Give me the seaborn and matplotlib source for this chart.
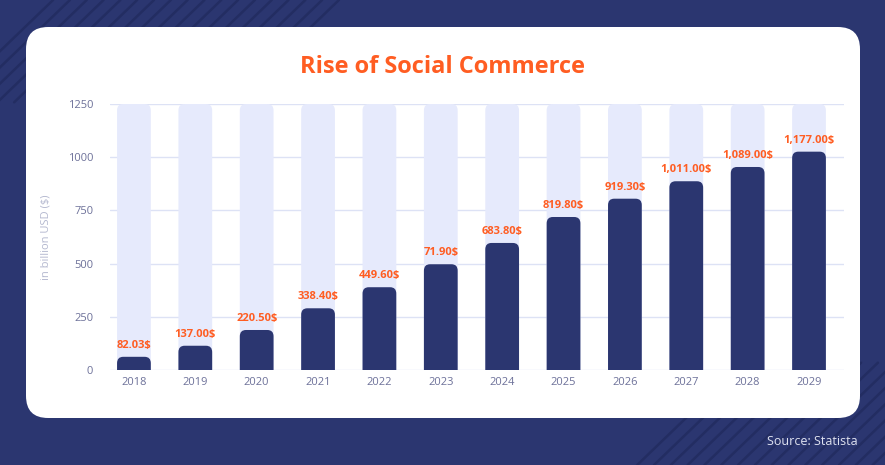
import matplotlib
matplotlib.use('Agg')
import matplotlib.pyplot as plt
from matplotlib.patches import FancyBboxPatch
import seaborn as sns
import pandas as pd

# Dados (alturas; rótulos como publicados)
anos = ['2018', '2019', '2020', '2021', '2022', '2023',
        '2024', '2025', '2026', '2027', '2028', '2029']
altura_barras = [62, 114, 188, 290, 389, 497, 597, 719, 805, 887, 954, 1026]
rotulos = ['82.03', '137.00', '220.50', '338.40', '449.60', '71.90',
           '683.80', '819.80', '919.30', '1,011.00', '1,089.00', '1,177.00']
teto = [1250] * len(anos)

AZUL = '#2b3670'
AZUL_ESCURO = '#232d62'
CLARO = '#e6eafc'
LARANJA = '#ff5d22'
CINZA = '#6d7199'

df = pd.DataFrame({'ano': anos, 'valor': altura_barras, 'teto': teto})

sns.set_theme(style='white')
plt.rcParams['font.family'] = ['Open Sans', 'DejaVu Sans']

fig = plt.figure(figsize=(8.85, 4.65), dpi=100)
fig.patch.set_facecolor(AZUL)

# listras diagonais do fundo
for i in range(18):
    x0 = -0.06 + i * 0.019
    fig.add_artist(plt.Line2D([x0, x0 + 0.12], [0.78, 1.0], transform=fig.transFigure,
                              color=AZUL_ESCURO, lw=1.8, zorder=0))
for i in range(16):
    x0 = 0.72 + i * 0.019
    fig.add_artist(plt.Line2D([x0, x0 + 0.12], [0.0, 0.22], transform=fig.transFigure,
                              color=AZUL_ESCURO, lw=1.8, zorder=0))

# cartão branco
cartao = FancyBboxPatch((26 / 885, 1 - 418 / 465), (860 - 26) / 885, (418 - 27) / 465,
                        boxstyle='round,pad=0,rounding_size=0.025',
                        mutation_aspect=885 / 465,
                        transform=fig.transFigure, facecolor='white',
                        edgecolor='none', zorder=1)
fig.add_artist(cartao)

ax = fig.add_axes([110 / 885, 1 - 370 / 465, (844 - 110) / 885, (370 - 104) / 465], zorder=2)
ax.set_facecolor('none')

sns.barplot(data=df, x='ano', y='teto', color=CLARO, width=0.55, ax=ax, saturation=1)
sns.barplot(data=df, x='ano', y='valor', color=AZUL, width=0.55, ax=ax, saturation=1)

# cantos arredondados
raio_x = 0.1
aspecto = 30 / raio_x
for p in list(ax.patches):
    x, w, h = p.get_x(), p.get_width(), p.get_height()
    fc = p.get_facecolor()
    p.remove()
    novo = FancyBboxPatch((x, -40), w, h + 40,
                          boxstyle=f'round,pad=0,rounding_size={raio_x}',
                          mutation_aspect=aspecto, facecolor=fc, edgecolor='none',
                          clip_on=True, zorder=2)
    ax.add_patch(novo)

for i, (v, r) in enumerate(zip(altura_barras, rotulos)):
    ax.text(i, v + 28, r + '$', ha='center', va='bottom', color=LARANJA,
            fontsize=8, fontweight='bold')

ax.set_xlim(-0.39, 11.57)
ax.set_ylim(0, 1250)
ax.set_yticks([0, 250, 500, 750, 1000, 1250])
for y in [0, 250, 500, 750, 1000, 1250]:
    ax.axhline(y, color='#dde2f5', lw=1, zorder=1)
for s in ax.spines.values():
    s.set_visible(False)
ax.tick_params(axis='both', length=0, labelsize=8, colors=CINZA)
ax.tick_params(axis='y', pad=12)
ax.tick_params(axis='x', pad=5)
ax.set_xlabel('')
ax.set_ylabel('in billion USD ($)', color='#b4b8cf', fontsize=8, labelpad=12)

fig.text(442 / 885, 1 - 67 / 465, 'Rise of Social Commerce', ha='center', va='center',
         color=LARANJA, fontsize=17, fontweight='bold', zorder=3)
fig.text(858 / 885, 1 - 441 / 465, 'Source: Statista', ha='right', va='center',
         color='#dfe2f0', fontsize=9, zorder=3)

fig.savefig('out.png', dpi=100, facecolor=fig.get_facecolor())
